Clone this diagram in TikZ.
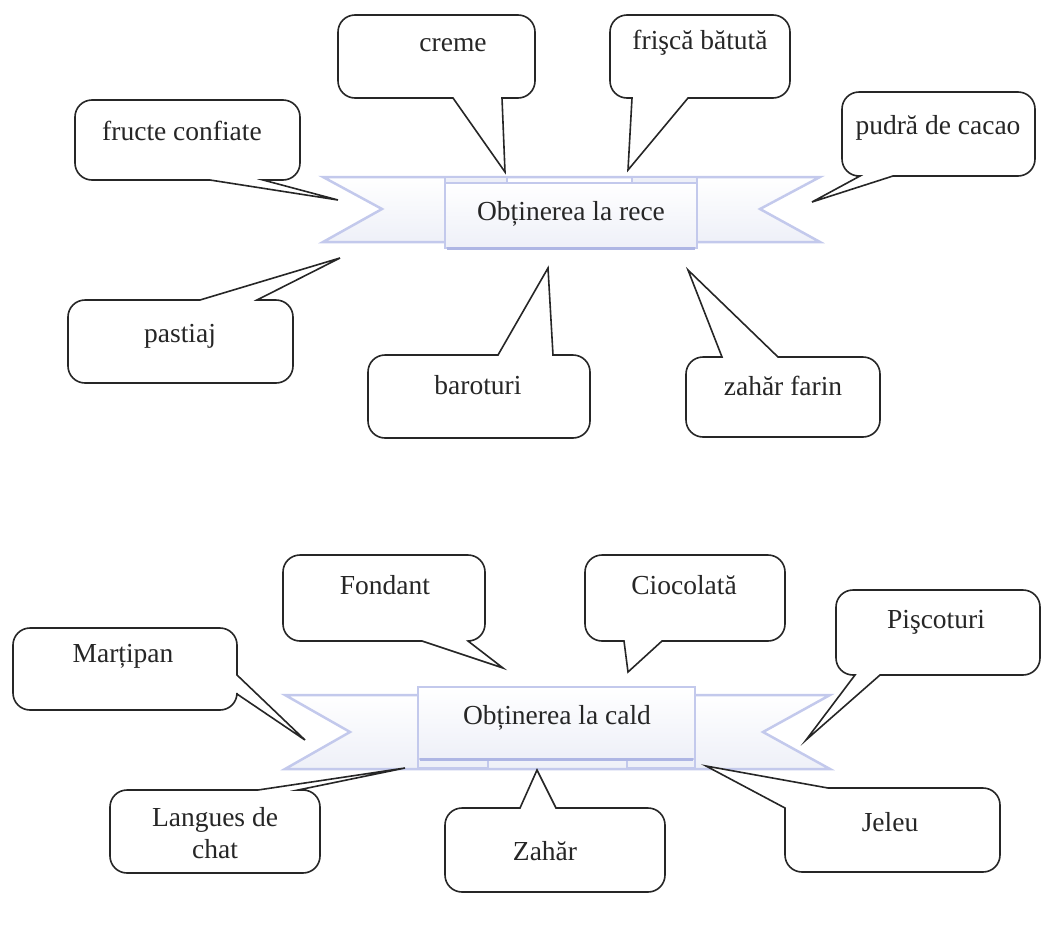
\documentclass[tikz,border=0pt]{standalone}
\usepackage{fontspec}
\setmainfont{Liberation Serif}
\definecolor{rib}{HTML}{C3C9EC}
\definecolor{ribdark}{HTML}{AEB6E4}
\definecolor{ribfill}{HTML}{EEF0F8}
\definecolor{ink}{HTML}{262626}
\begin{document}
\begin{tikzpicture}[x=1pt,y=-1pt,
  co/.style={draw=ink, line width=1.6pt, fill=white, line join=miter},
  lbl/.style={font=\fontsize{27.5}{32}\selectfont, text=ink, inner sep=0pt, align=center},
  band/.style={draw=rib, line width=2.5pt, line join=miter, top color=white, bottom color=ribfill},
  tab/.style={draw=rib, line width=1.5pt, fill=ribfill},
  panel/.style={draw=rib, line width=1.5pt, top color=white, bottom color=ribfill},
  shade/.style={draw=ribdark, line width=3pt}]
\useasboundingbox (0,0) rectangle (1057,924);

% ---------- top ribbon ----------
\path[band] (323,177) -- (820,177) -- (760,209) -- (820,242) -- (323,242) -- (382,209) -- cycle;
\path[tab] (445,177) rectangle (507,184);
\path[tab] (632,177) rectangle (697,184);
\node[panel, minimum width=252pt, minimum height=65pt, inner sep=0pt] (rece) at (571,215.5) {};
\draw[shade] (447,248.5) -- (695,248.5);
\node[lbl] (recet) at (571,214) {Obținerea la rece};

% ---------- bottom ribbon ----------
\path[band] (285,695) -- (830,695) -- (763,732) -- (830,769) -- (285,769) -- (350,732) -- cycle;
\path[tab] (418,758) rectangle (488,768);
\path[tab] (627,758) rectangle (695,768);
\node[panel, minimum width=277pt, minimum height=72pt, inner sep=0pt] (cald) at (556.5,723) {};
\draw[shade] (420,759.5) -- (693,759.5);
\node[lbl] (caldt) at (557,718) {Obținerea la cald};

% ---------- top callouts ----------
% fructe confiate
\draw[co] (187,100) [rounded corners=17] -- (300,100) -- (300,180) [sharp corners] -- (263,180) -- (338,200) -- (210,180) [rounded corners=17] -- (75,180) -- (75,100) -- cycle;
\node[lbl] (fc) at (182,131) {fructe confiate};
% creme
\draw[co] (436,15) [rounded corners=17] -- (535,15) -- (535,98) [sharp corners] -- (502,98) -- (505,172) -- (453,98) [rounded corners=17] -- (338,98) -- (338,15) -- cycle;
\node[lbl] (cr) at (453,45) {creme};
% frisca batuta
\draw[co] (700,15) [rounded corners=17] -- (790,15) -- (790,98) [sharp corners] -- (688,98) -- (628,170) -- (632,98) [rounded corners=17] -- (610,98) -- (610,15) -- cycle;
\node[lbl] (fb) at (700,43) {frişcă bătută};
% pudra de cacao
\draw[co] (938,92) [rounded corners=17] -- (1035,92) -- (1035,176) [sharp corners] -- (893,176) -- (812,202) -- (860,176) [rounded corners=17] -- (842,176) -- (842,92) -- cycle;
\node[lbl] (pc) at (938,128) {pudră de cacao};
% pastiaj
\draw[co] (180,383) [rounded corners=17] -- (68,383) -- (68,300) [sharp corners] -- (200,300) -- (340,258) -- (257,300) [rounded corners=17] -- (293,300) -- (293,383) -- cycle;
\node[lbl] (pa) at (180,336) {pastiaj};
% baroturi
\draw[co] (479,438) [rounded corners=17] -- (368,438) -- (368,355) [sharp corners] -- (498,355) -- (548,268) -- (553,355) [rounded corners=17] -- (590,355) -- (590,438) -- cycle;
\node[lbl] (ba) at (478,385) {baroturi};
% zahar farin
\draw[co] (783,437) [rounded corners=17] -- (686,437) -- (686,357) [sharp corners] -- (722,357) -- (688,270) -- (778,357) [rounded corners=17] -- (880,357) -- (880,437) -- cycle;
\node[lbl] (zf) at (783,386) {zahăr farin};

% ---------- bottom callouts ----------
% Martipan
\draw[co] (125,628) [rounded corners=17] -- (237,628) [sharp corners] -- (237,675) -- (305,740) -- (237,694) [rounded corners=17] -- (237,710) -- (13,710) -- (13,628) -- cycle;
\node[lbl] (ma) at (123,656) {Marțipan};
% Fondant
\draw[co] (384,555) [rounded corners=17] -- (485,555) -- (485,641) [sharp corners] -- (468,641) -- (503,668) -- (422,641) [rounded corners=17] -- (283,641) -- (283,555) -- cycle;
\node[lbl] (fo) at (385,585) {Fondant};
% Ciocolata
\draw[co] (685,555) [rounded corners=17] -- (785,555) -- (785,641) [sharp corners] -- (662,641) -- (628,672) -- (624,641) [rounded corners=17] -- (585,641) -- (585,555) -- cycle;
\node[lbl] (ci) at (684,585) {Ciocolată};
% Piscoturi
\draw[co] (938,590) [rounded corners=17] -- (1040,590) -- (1040,675) [sharp corners] -- (880,675) -- (806,740) -- (855,675) [rounded corners=17] -- (836,675) -- (836,590) -- cycle;
\node[lbl] (pi) at (936,622) {Pişcoturi};
% Langues de chat
\draw[co] (215,873) [rounded corners=17] -- (110,873) -- (110,790) [sharp corners] -- (258,790) -- (405,768) -- (298,790) [rounded corners=17] -- (320,790) -- (320,873) -- cycle;
\node[lbl] (lc) at (215,833) {Langues de\\chat};
% Zahar
\draw[co] (555,892) [rounded corners=17] -- (445,892) -- (445,808) [sharp corners] -- (520,808) -- (537,770) -- (556,808) [rounded corners=17] -- (665,808) -- (665,892) -- cycle;
\node[lbl] (za) at (545,851) {Zahăr};
% Jeleu
\draw[co] (892,872) [rounded corners=17] -- (785,872) [sharp corners] -- (785,808) -- (706,766) -- (828,788) [rounded corners=17] -- (1000,788) -- (1000,872) -- cycle;
\node[lbl] (je) at (890,822) {Jeleu};
\end{tikzpicture}
\end{document}
